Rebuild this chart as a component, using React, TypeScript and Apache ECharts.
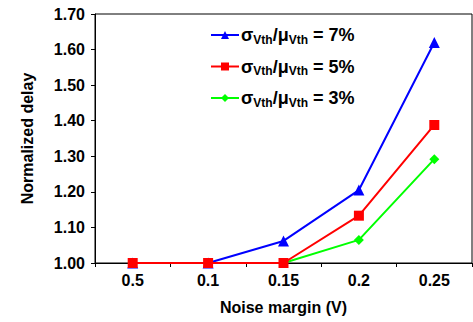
import React, { useEffect, useRef } from "react";
import * as echarts from "echarts";

const categories = ["0.5", "0.1", "0.15", "0.2", "0.25"];
const yTicks = { min: 1.0, max: 1.7, interval: 0.1 };
const seriesNames = ["7%", "5%", "3%"];
const blue7 = [1.0, 1.0, 1.062, 1.205, 1.62];
const red5 = [1.0, 1.0, 1.0, 1.133, 1.388];
const green3 = [1.0, 1.0, 1.0, 1.065, 1.292];

const FONT = "Liberation Sans, Arial, sans-serif";

export default function App() {
  const ref = useRef<HTMLDivElement>(null);
  useEffect(() => {
    if (!ref.current) return;
    const chart = echarts.init(ref.current, undefined, { renderer: "svg" });
    const labelStyle = { color: "#000", fontFamily: FONT, fontWeight: "bold" as const, fontSize: 16 };
    chart.setOption({
      animation: false,
      backgroundColor: "#fff",
      grid: { left: 95, top: 14, right: 1, bottom: 59, show: true, borderColor: "#000", borderWidth: 1, backgroundColor: "transparent" },
      legend: {
        orient: "vertical",
        left: 205,
        top: 21,
        itemWidth: 28,
        itemHeight: 10,
        itemGap: 12,
        data: seriesNames,
        formatter: (name: string) => `{s|σ}{sub|Vth}{s|/μ}{sub|Vth}{s| = ${name}}`,
        textStyle: {
          color: "#000",
          fontFamily: FONT,
          fontWeight: "bold",
          fontSize: 18,
          padding: [0, 0, 0, -3],
          rich: {
            s: { fontFamily: FONT, fontWeight: "bold", fontSize: 18, color: "#000" },
            sub: { fontFamily: FONT, fontWeight: "bold", fontSize: 12, color: "#000", verticalAlign: "bottom", padding: [9, 0, 0, 0] },
          },
        },
      },
      xAxis: {
        type: "category",
        data: categories,
        boundaryGap: true,
        name: "Noise margin (V)",
        nameLocation: "middle",
        nameGap: 36,
        nameTextStyle: labelStyle,
        axisLine: { show: true, lineStyle: { color: "#000", width: 1 } },
        axisTick: { show: true, length: 4, lineStyle: { color: "#000" } },
        axisLabel: { ...labelStyle, margin: 9 },
        splitLine: { show: false },
      },
      yAxis: {
        type: "value",
        min: yTicks.min,
        max: yTicks.max,
        interval: yTicks.interval,
        name: "Normalized delay",
        nameLocation: "middle",
        nameGap: 60,
        nameTextStyle: labelStyle,
        axisLine: { show: true, lineStyle: { color: "#000", width: 1 } },
        axisTick: { show: true, length: 4, lineStyle: { color: "#000" } },
        axisLabel: { ...labelStyle, margin: 10, formatter: (v: number) => v.toFixed(2) },
        splitLine: { show: false },
      },
      series: [
        { name: "3%", type: "line", data: green3, color: "#00ff00", symbol: "diamond", symbolSize: 10, lineStyle: { width: 2 }, z: 2 },
        { name: "7%", type: "line", data: blue7, color: "#0000ff", symbol: "triangle", symbolSize: 11, lineStyle: { width: 2 }, z: 3 },
        { name: "5%", type: "line", data: red5, color: "#ff0000", symbol: "rect", symbolSize: 10, lineStyle: { width: 2 }, z: 4 },
      ],
    });
    return () => chart.dispose();
  }, []);
  return <div ref={ref} style={{ position: "absolute", left: 0, top: 0, width: 473, height: 322 }} />;
}
